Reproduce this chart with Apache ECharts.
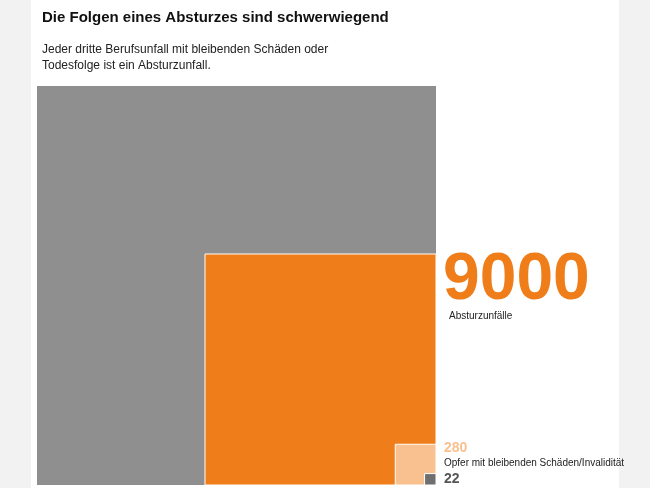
<!DOCTYPE html>
<html><head><meta charset="utf-8">
<script src="https://cdn.jsdelivr.net/npm/echarts@6/dist/echarts.min.js"></script>
<style>html,body{margin:0;background:#f2f2f2}#panel{position:absolute;left:31px;top:0;width:588px;height:488px;background:#fff}#c{position:absolute;left:0;top:0;width:650px;height:488px}</style>
</head><body><div id="panel"></div><div id="c"></div>
<script>
const categories = ['Berufsunfall', 'Absturzunfälle', 'Opfer mit bleibenden Schäden/Invalidität', 'Tote'];
const values = [26850, 9000, 280, 22];
const colors = ['#8f8f8f', '#ef7d19', '#f9c18f', '#6f6f6f'];
const side = Math.sqrt(values[0]);
const chart = echarts.init(document.getElementById('c'));
const F = 'Liberation Sans, Arial, sans-serif';
chart.setOption({
  backgroundColor: 'transparent',
  animation: false,
  title: [
    {text: 'Die Folgen eines Absturzes sind schwerwiegend', left: 37, top: 5, textStyle: {fontFamily: F, fontSize: 15, fontWeight: 'bold', color: '#111'}},
    {text: 'Jeder dritte Berufsunfall mit bleibenden Schäden oder\nTodesfolge ist ein Absturzunfall.', left: 37, top: 37, textStyle: {fontFamily: F, fontSize: 12, fontWeight: 'normal', color: '#222', lineHeight: 16}}
  ],
  grid: {left: 37, right: 214, top: 86, bottom: 3},
  xAxis: {type: 'value', min: -side, max: 0, show: false},
  yAxis: {type: 'value', min: 0, max: side, show: false},
  series: [{
    type: 'custom',
    data: values.map((v, i) => [i, Math.sqrt(v)]),
    renderItem: (params, api) => {
      const i = api.value(0), s = api.value(1);
      const p0 = api.coord([-s, s]), p1 = api.coord([0, 0]);
      return {type: 'rect', shape: {x: p0[0], y: p0[1], width: p1[0] - p0[0], height: p1[1] - p0[1]},
        style: {fill: colors[i], stroke: i === 0 ? null : '#fff', lineWidth: i === 0 ? 0 : 1}};
    }
  }],
  graphic: [
    {type: 'text', left: 43, top: 91, style: {text: categories[0], fill: '#fff', font: '12px ' + F}},
    {type: 'text', left: 443, top: 248, style: {text: String(values[1]), fill: colors[1], font: 'bold 66px ' + F}},
    {type: 'text', left: 449, top: 311, style: {text: categories[1], fill: '#222', font: '10px ' + F}},
    {type: 'text', left: 444, top: 441, style: {text: String(values[2]), fill: colors[2], font: 'bold 14px ' + F}},
    {type: 'text', left: 444, top: 458, style: {text: categories[2], fill: '#222', font: '10px ' + F}},
    {type: 'text', left: 444, top: 472, style: {text: String(values[3]), fill: '#555', font: 'bold 14px ' + F}}
  ]
});
</script></body></html>
